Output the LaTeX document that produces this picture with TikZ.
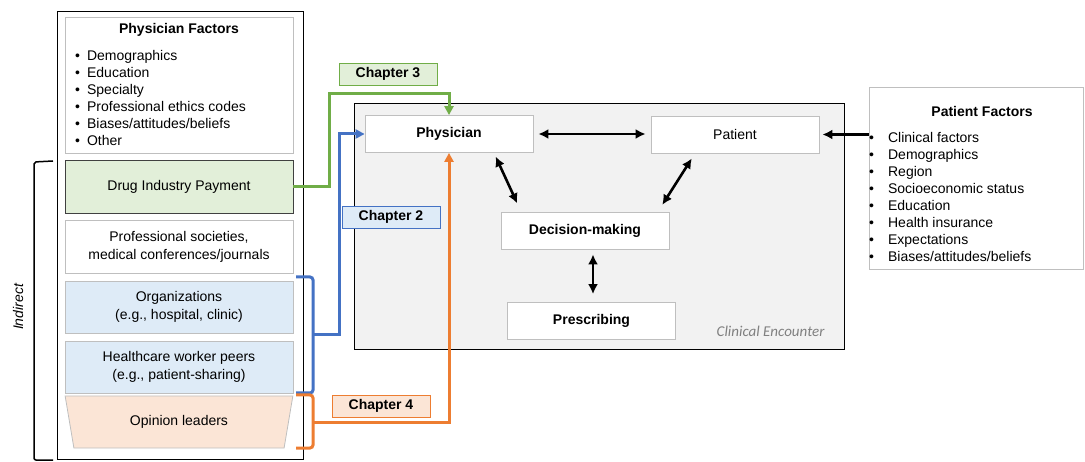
\documentclass[tikz,border=0pt]{standalone}
\usepackage{fontspec}
\setmainfont{Liberation Sans}
\newfontfamily\calibri{Carlito}
\usetikzlibrary{arrows.meta}
\usetikzlibrary{shapes.geometric}
\definecolor{paygreen}{HTML}{E2EFD9}
\definecolor{ch3green}{HTML}{70AD47}
\definecolor{orgblue}{HTML}{DEEBF7}
\definecolor{ch2blue}{HTML}{4472C4}
\definecolor{leadpeach}{HTML}{FBE5D6}
\definecolor{ch4orange}{HTML}{ED7D31}
\definecolor{encgray}{HTML}{F2F2F2}
\definecolor{edgegray}{HTML}{BFBFBF}
\tikzstyle{box}=[draw=edgegray, fill=white, line width=0.8pt, align=center, inner sep=2pt, font={\fontsize{14}{18}\selectfont}]
\tikzstyle{factor}=[box, minimum width=228pt, minimum height=53pt]
\tikzstyle{stage}=[box, minimum width=168pt, minimum height=37pt, font={\fontsize{14}{18}\selectfont\bfseries}]
\tikzstyle{chapter}=[line width=0.8pt, minimum width=98pt, minimum height=22pt, inner sep=0pt, font={\fontsize{14}{17}\selectfont\bfseries}]
\tikzstyle{list}=[align=left, inner sep=0pt, anchor=west, font={\fontsize{14}{17}\selectfont}]
\tikzstyle{link}=[-{Triangle[length=9pt,width=9pt]}, line width=3pt]
\tikzstyle{both}=[{Latex[length=10pt,width=10pt]}-{Latex[length=10pt,width=10pt]}, line width=2.6pt]
\tikzstyle{brace}=[line width=3pt, rounded corners=3pt]
\newcommand{\itm}[1][7pt]{\textbullet\hspace{#1}}

\begin{document}
\begin{tikzpicture}[x=1pt, y=-1pt]
    \useasboundingbox (0,0) rectangle (1085,462);

    \draw[line width=1pt] (57,12) rectangle (303,459);
    \node[factor, minimum height=136pt] (physfac) at (179,85) {};
    \node[font={\fontsize{14}{17}\selectfont\bfseries}] (physfactitle) at (179,30) {Physician Factors};
    \node[list] (physlist) at (75,98) {\itm Demographics\\\itm Education\\\itm Specialty\\\itm Professional ethics codes\\\itm Biases/attitudes/beliefs\\\itm Other};
    \node[factor, fill=paygreen, draw=black!75] (pay) at (179,186.5) {Drug Industry Payment};
    \node[factor] (soc) at (179,246.5) {Professional societies,\\medical conferences/journals};
    \node[factor, fill=orgblue, minimum height=52pt] (org) at (179,307) {Organizations\\(e.g., hospital, clinic)};
    \node[factor, fill=orgblue, minimum height=52pt] (peers) at (179,367) {Healthcare worker peers\\(e.g., patient-sharing)};
    \node[factor, trapezium, trapezium angle=76, shape border rotate=180, trapezium stretches=true, fill=leadpeach, minimum height=52pt] (lead) at (179,422) {Opinion leaders};

    \draw[line width=1.5pt, rounded corners=2pt] (53,161) -- (34,162) -- (34,460) -- (53,460);
    \node[rotate=90, font={\fontsize{14}{17}\selectfont\itshape}] (indirect) at (18,307) {Indirect};

    \node[draw=black, fill=encgray, line width=0.8pt, minimum width=490pt, minimum height=246pt] (enc) at (599,226) {};
    \node[stage] (phys) at (449,134) {Physician};
    \node[stage, font={\fontsize{14}{18}\selectfont}] (pat) at (735,134.5) {Patient};
    \node[stage] (dec) at (585,230.5) {Decision-making};
    \node[stage] (presc) at (591.5,321) {Prescribing};
    \node[anchor=east, text=gray, font={\calibri\fontsize{15}{18}\selectfont\itshape}] (enclabel) at (828,331) {Clinical Encounter};

    \node[box, minimum width=214pt, minimum height=182pt] (patfac) at (976,178) {};
    \node[font={\fontsize{14}{17}\selectfont\bfseries}] (patfactitle) at (982,111) {Patient Factors};
    \node[list] (patlist) at (869,197) {\itm[14pt]Clinical factors\\\itm[14pt]Demographics\\\itm[14pt]Region\\\itm[14pt]Socioeconomic status\\\itm[14pt]Education\\\itm[14pt]Health insurance\\\itm[14pt]Expectations\\\itm[14pt]Biases/attitudes/beliefs};

    \node[chapter, draw=ch3green, fill=paygreen] (ch3) at (388,74) {Chapter 3};
    \node[chapter, draw=ch2blue, fill=orgblue] (ch2) at (391,217) {Chapter 2};
    \node[chapter, draw=ch4orange, fill=leadpeach] (ch4) at (381,406) {Chapter 4};

    \draw[brace, ch2blue] (296,277) -- (313,277) -- (313,393) -- (296,393);
    \draw[brace, ch4orange] (296,395) -- (313,395) -- (313,448) -- (296,448);
    \coordinate (bluemid) at (313,335);
    \coordinate (orangemid) at (313,422);

    \draw[link, ch3green] (pay.east) -- ++(36,0) -- ++(0,-93) -| (phys.north);
    \draw[link, ch2blue] (bluemid) -- ++(26,0) |- (phys.west);
    \draw[link, ch4orange] (orangemid) -| (phys.south);

    \draw[both, shorten <=5pt, shorten >=5pt] (phys.east) -- (phys.east -| pat.west);
    \draw[both, shorten <=4pt, shorten >=9pt] ([xshift=45pt]phys.south) -- ([xshift=-64pt]dec.north);
    \draw[both, shorten <=6pt, shorten >=8pt] ([xshift=-40pt]pat.south) -- ([xshift=73pt]dec.north);
    \draw[both, shorten <=5pt, shorten >=8pt] ([xshift=8pt]dec.south) -- ([xshift=8pt]dec.south |- presc.north);
    \draw[-{Latex[length=10pt,width=10pt]}, line width=2.6pt, shorten >=3pt] (patfac.west |- pat.east) -- (pat.east);

\end{tikzpicture}
\end{document}
